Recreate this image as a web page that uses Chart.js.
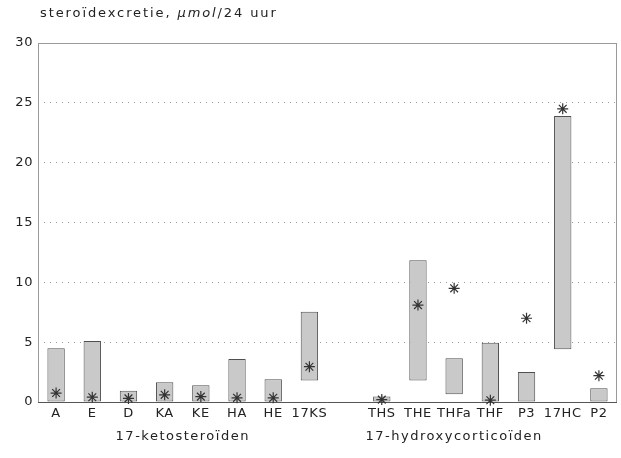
<!DOCTYPE html>
<html>
<head>
<meta charset="utf-8">
<script src="https://cdn.jsdelivr.net/npm/chart.js@4/dist/chart.umd.min.js"></script>
<style>
  html, body { margin: 0; padding: 0; background: #fff; }
  #wrap { width: 621px; height: 458px; }
</style>
</head>
<body>
<div id="wrap"><canvas id="steroidChart"></canvas></div>
<script>
// categories (empty slot separates the two groups)
const categories = ['A', 'E', 'D', 'KA', 'KE', 'HA', 'HE', '17KS', '', 'THS', 'THE', 'THFa', 'THF', 'P3', '17HC', 'P2'];
// reference range: low and high ends of each bar
const rangeLow  = [0, 0, 0, 0, 0, 0, 0, 1.8, null, 0, 1.8, 0.65, 0, 0, 4.4, 0];
const rangeHigh = [4.5, 5.1, 0.95, 1.65, 1.4, 3.6, 1.9, 7.55, null, 0.45, 11.85, 3.65, 4.95, 2.5, 23.9, 1.15];
// measured values (asterisks)
const measured = [0.75, 0.4, 0.3, 0.6, 0.45, 0.35, 0.35, 2.95, null, 0.2, 8.1, 9.5, 0.15, 7.0, 24.5, 2.2];
const yTicks = [0, 5, 10, 15, 20, 25, 30];
// group captions, centred between two categories
const groups = [
    { label: '17-ketosteroïden', from: 'A', to: '17KS' },
    { label: '17-hydroxycorticoïden', from: 'THS', to: 'P3' }
];

const FONT = '"DejaVu Sans", Verdana, sans-serif';

const bars = categories.map((c, i) => rangeLow[i] === null ? null : [rangeLow[i], rangeHigh[i]]);

// frame, title and group labels
const extras = {
    id: 'extras',
    beforeDraw(chart) {
        chart.ctx.letterSpacing = '0.6px';
    },
    beforeDatasetsDraw(chart) {
        const { ctx, chartArea: a } = chart;
        ctx.save();
        ctx.strokeStyle = '#9a9a9a';
        ctx.lineWidth = 1;
        ctx.strokeRect(a.left + 0.5, a.top + 0.5, a.right - a.left - 1, a.bottom - a.top);
        ctx.strokeStyle = '#555';
        ctx.beginPath();
        ctx.moveTo(a.left, a.bottom + 0.5);
        ctx.lineTo(a.right, a.bottom + 0.5);
        ctx.stroke();
        ctx.restore();
    },
    afterDraw(chart) {
        const { ctx, scales } = chart;
        ctx.save();
        ctx.fillStyle = '#222';
        ctx.textBaseline = 'middle';
        ctx.letterSpacing = '1.9px';
        // title with italic unit
        let x = 40;
        const y = 14;
        const parts = [['steroïdexcretie, ', 'normal'], ['µmol', 'italic'], ['/24 uur', 'normal']];
        parts.forEach(([t, st]) => {
            ctx.font = st + ' 13px ' + FONT;
            ctx.textAlign = 'left';
            ctx.fillText(t, x, y);
            x += ctx.measureText(t).width;
        });
        // group labels under the axis
        ctx.letterSpacing = '1.5px';
        ctx.font = '13px ' + FONT;
        ctx.textAlign = 'center';
        groups.forEach(g => {
            const x1 = scales.x.getPixelForValue(categories.indexOf(g.from));
            const x2 = scales.x.getPixelForValue(categories.indexOf(g.to));
            ctx.fillText(g.label, (x1 + x2) / 2, 437);
        });
        ctx.restore();
    }
};

new Chart(document.getElementById('steroidChart'), {
    data: {
        labels: categories,
        datasets: [{
            type: 'line',
            label: 'gemeten',
            data: measured,
            showLine: false,
            pointStyle: 'star',
            pointRadius: 5.5,
            pointBorderWidth: 1.2,
            pointBorderColor: '#333',
            pointBackgroundColor: '#333',
            clip: false,
            order: 0
        }, {
            type: 'bar',
            label: 'normaalwaarden',
            data: bars,
            backgroundColor: '#c9c9c9',
            borderColor: '#505050',
            borderWidth: 1,
            borderSkipped: false,
            barPercentage: 0.48,
            categoryPercentage: 1,
            order: 1
        }]
    },
    options: {
        responsive: true,
        maintainAspectRatio: false,
        animation: false,
        layout: { autoPadding: false, padding: { top: 43, right: 4, left: 0, bottom: 0 } },
        plugins: {
            legend: { display: false },
            tooltip: { enabled: false }
        },
        scales: {
            x: {
                grid: { display: false, drawTicks: false },
                border: { display: false },
                ticks: {
                    color: '#222',
                    font: { family: FONT, size: 13 },
                    padding: 4,
                    maxRotation: 0,
                    autoSkip: false
                },
                afterFit(scale) {
                    scale.height = 56;
                    scale.paddingLeft = 0;
                    scale.paddingRight = 0;
                }
            },
            y: {
                min: 0,
                max: 30,
                afterBuildTicks(scale) { scale.ticks = yTicks.map(v => ({ value: v })); },
                grid: {
                    color: ctx => (ctx.tick && (ctx.tick.value === 0 || ctx.tick.value === 30)) ? 'rgba(0,0,0,0)' : '#9a9a9a',
                    lineWidth: 1,
                    drawTicks: false
                },
                border: { display: false, dash: [1, 5] },
                ticks: {
                    color: '#222',
                    font: { family: FONT, size: 13 },
                    padding: 5
                },
                afterFit(scale) { scale.width = 38; }
            }
        }
    },
    plugins: [extras]
});
</script>
</body>
</html>
